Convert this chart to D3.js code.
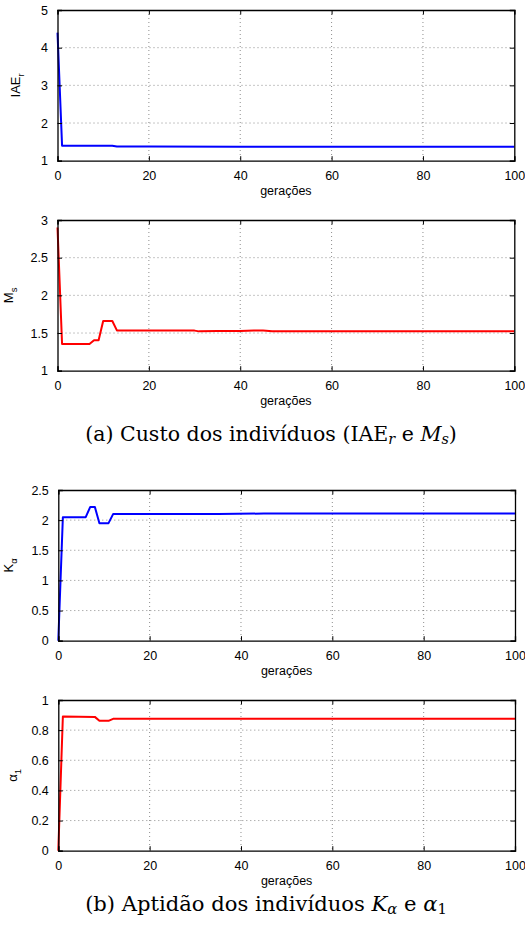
<!DOCTYPE html>
<html>
<head>
<meta charset="utf-8">
<script src="https://cdn.jsdelivr.net/npm/d3@7"></script>
<style>
  html, body { margin: 0; padding: 0; background: #fff; }
  svg { display: block; }
</style>
</head>
<body>
<svg id="chart" width="525" height="929"></svg>
<script>
// ---- Data ----
const xTicks = [0, 20, 40, 60, 80, 100];
const xLabel = "gerações";

// (a) IAE_r
const iaeGen = [0, 1, 7, 12, 13, 20, 40, 60, 80, 100];
const iaeVal = [4.4, 1.40, 1.40, 1.395, 1.375, 1.375, 1.37, 1.37, 1.37, 1.37];
const iaeTicks = [1, 2, 3, 4, 5];

// (a) M_s
const msGen = [0, 1, 7, 8, 9, 10, 12, 13, 20, 30, 31, 35, 40, 43, 45, 47, 60, 80, 100];
const msVal = [2.9, 1.355, 1.355, 1.405, 1.405, 1.66, 1.66, 1.535, 1.535, 1.532, 1.522, 1.527, 1.527, 1.532, 1.532, 1.525, 1.525, 1.525, 1.525];
const msTicks = [1, 1.5, 2, 2.5, 3];

// (b) K_alpha
const kaGen = [0, 1, 6, 7, 8, 9, 11, 12, 20, 35, 45, 60, 100];
const kaVal = [0, 2.05, 2.05, 2.22, 2.22, 1.95, 1.95, 2.10, 2.10, 2.10, 2.11, 2.11, 2.11];
const kaTicks = [0, 0.5, 1, 1.5, 2, 2.5];

// (b) alpha_1
const a1Gen = [0, 1, 8, 9, 11, 12, 20, 40, 60, 80, 100];
const a1Val = [0, 0.89, 0.888, 0.862, 0.862, 0.875, 0.875, 0.875, 0.876, 0.876, 0.876];
const a1Ticks = [0, 0.2, 0.4, 0.6, 0.8, 1];

const captionA = "(a) Custo dos indivíduos (IAE";
const captionB = "(b) Aptidão dos indivíduos ";

// ---- Drawing ----
const svg = d3.select("#chart");
const sansFont = "'Liberation Sans', Arial, Helvetica, sans-serif";
const serifFont = "'DejaVu Serif', 'Liberation Serif', serif";

const panels = [
  { gen: iaeGen, val: iaeVal, ticks: iaeTicks, dom: [1, 5], color: "#0000ff",
    box: { l: 57.5, r: 514.3, t: 10, b: 160.7 }, ylab: { x: 20, base: "IAE", sub: "r" } },
  { gen: msGen, val: msVal, ticks: msTicks, dom: [1, 3], color: "#ff0000",
    box: { l: 57.5, r: 514.3, t: 220, b: 370.7 }, ylab: { x: 13, base: "M", sub: "s" } },
  { gen: kaGen, val: kaVal, ticks: kaTicks, dom: [0, 2.5], color: "#0000ff",
    box: { l: 58.3, r: 515, t: 490, b: 640.7 }, ylab: { x: 13, base: "K", sub: "α" } },
  { gen: a1Gen, val: a1Val, ticks: a1Ticks, dom: [0, 1], color: "#ff0000",
    box: { l: 58.3, r: 515, t: 700, b: 850.7 }, ylab: { x: 17, base: "α", sub: "1" } }
];

const fmt = d => String(d);

panels.forEach(p => {
  const b = p.box;
  const x = d3.scaleLinear().domain([0, 100]).range([b.l, b.r]);
  const y = d3.scaleLinear().domain(p.dom).range([b.b, b.t]);
  const g = svg.append("g");

  // grid (dotted)
  const grid = g.append("g").attr("stroke", "#000").attr("stroke-width", 0.6)
    .attr("stroke-dasharray", "1,3").attr("opacity", 0.75);
  xTicks.slice(1, -1).forEach(t => {
    grid.append("line").attr("x1", x(t)).attr("x2", x(t)).attr("y1", b.t).attr("y2", b.b);
  });
  p.ticks.slice(1, -1).forEach(t => {
    grid.append("line").attr("x1", b.l).attr("x2", b.r).attr("y1", y(t)).attr("y2", y(t));
  });

  // data line
  const pts = p.gen.map((gv, i) => [gv, p.val[i]]);
  g.append("path").datum(pts)
    .attr("fill", "none").attr("stroke", p.color).attr("stroke-width", 2)
    .attr("stroke-linejoin", "round")
    .attr("d", d3.line().x(d => x(d[0])).y(d => y(d[1])));

  // axes (MATLAB style inward ticks on all four sides)
  const tickLen = 4.5;
  const axB = g.append("g").attr("transform", `translate(0,${b.b})`)
    .call(d3.axisBottom(x).tickValues(xTicks).tickSize(-tickLen).tickPadding(6 + tickLen).tickFormat(fmt));
  const axT = g.append("g").attr("transform", `translate(0,${b.t})`)
    .call(d3.axisTop(x).tickValues(xTicks).tickSize(-tickLen).tickFormat(""));
  const axL = g.append("g").attr("transform", `translate(${b.l},0)`)
    .call(d3.axisLeft(y).tickValues(p.ticks).tickSize(-tickLen).tickPadding(5 + tickLen).tickFormat(fmt));
  const axR = g.append("g").attr("transform", `translate(${b.r},0)`)
    .call(d3.axisRight(y).tickValues(p.ticks).tickSize(-tickLen).tickFormat(""));
  [axB, axT, axL, axR].forEach(a => {
    a.select(".domain").attr("stroke", "#000").attr("stroke-width", 1.3);
    a.selectAll(".tick line").attr("stroke", "#000").attr("stroke-width", 1);
    a.selectAll("text").attr("font-family", sansFont).attr("font-size", 12.5).attr("fill", "#000");
  });
  axB.selectAll("text").attr("dy", "0.71em");

  // x label
  g.append("text").attr("x", (b.l + b.r) / 2).attr("y", b.b + 34)
    .attr("text-anchor", "middle").attr("font-family", sansFont).attr("font-size", 12.5)
    .text(xLabel);

  // y label (rotated)
  const yl = g.append("text")
    .attr("transform", `translate(${p.ylab.x},${(b.t + b.b) / 2}) rotate(-90)`)
    .attr("text-anchor", "middle").attr("font-family", sansFont).attr("font-size", 13);
  yl.append("tspan").text(p.ylab.base);
  yl.append("tspan").attr("font-size", 9.5).attr("dy", 4).text(p.ylab.sub);
});

// captions (serif, with math italics), scaled to the reference width
function caption(yBase, parts, targetWidth, cx) {
  const t = svg.append("text").attr("y", yBase).attr("font-family", serifFont)
    .attr("font-size", 15).attr("fill", "#000").attr("text-anchor", "start");
  parts.forEach(pt => {
    const s = t.append("tspan").text(pt.t);
    if (pt.it) s.attr("font-style", "italic");
    if (pt.sub) s.attr("font-size", 10.5).attr("dy", 3);
    if (pt.up) s.attr("dy", -3);
  });
  const w = t.node().getComputedTextLength();
  const k = targetWidth / w;
  t.attr("font-size", 15 * k);
  t.selectAll("tspan").each(function () {
    const fs = d3.select(this).attr("font-size");
    if (fs) d3.select(this).attr("font-size", fs * k);
  });
  const w2 = t.node().getComputedTextLength();
  t.attr("x", cx - w2 / 2);
}
caption(441, [
  { t: captionA }, { t: "r", it: true, sub: true }, { t: " e ", up: true },
  { t: "M", it: true }, { t: "s", it: true, sub: true }, { t: ")", up: true }
], 372, 271);
caption(911, [
  { t: captionB }, { t: "K", it: true }, { t: "α", it: true, sub: true }, { t: " e ", up: true },
  { t: "α", it: true }, { t: "1", sub: true }
], 362, 266);
</script>
</body>
</html>
